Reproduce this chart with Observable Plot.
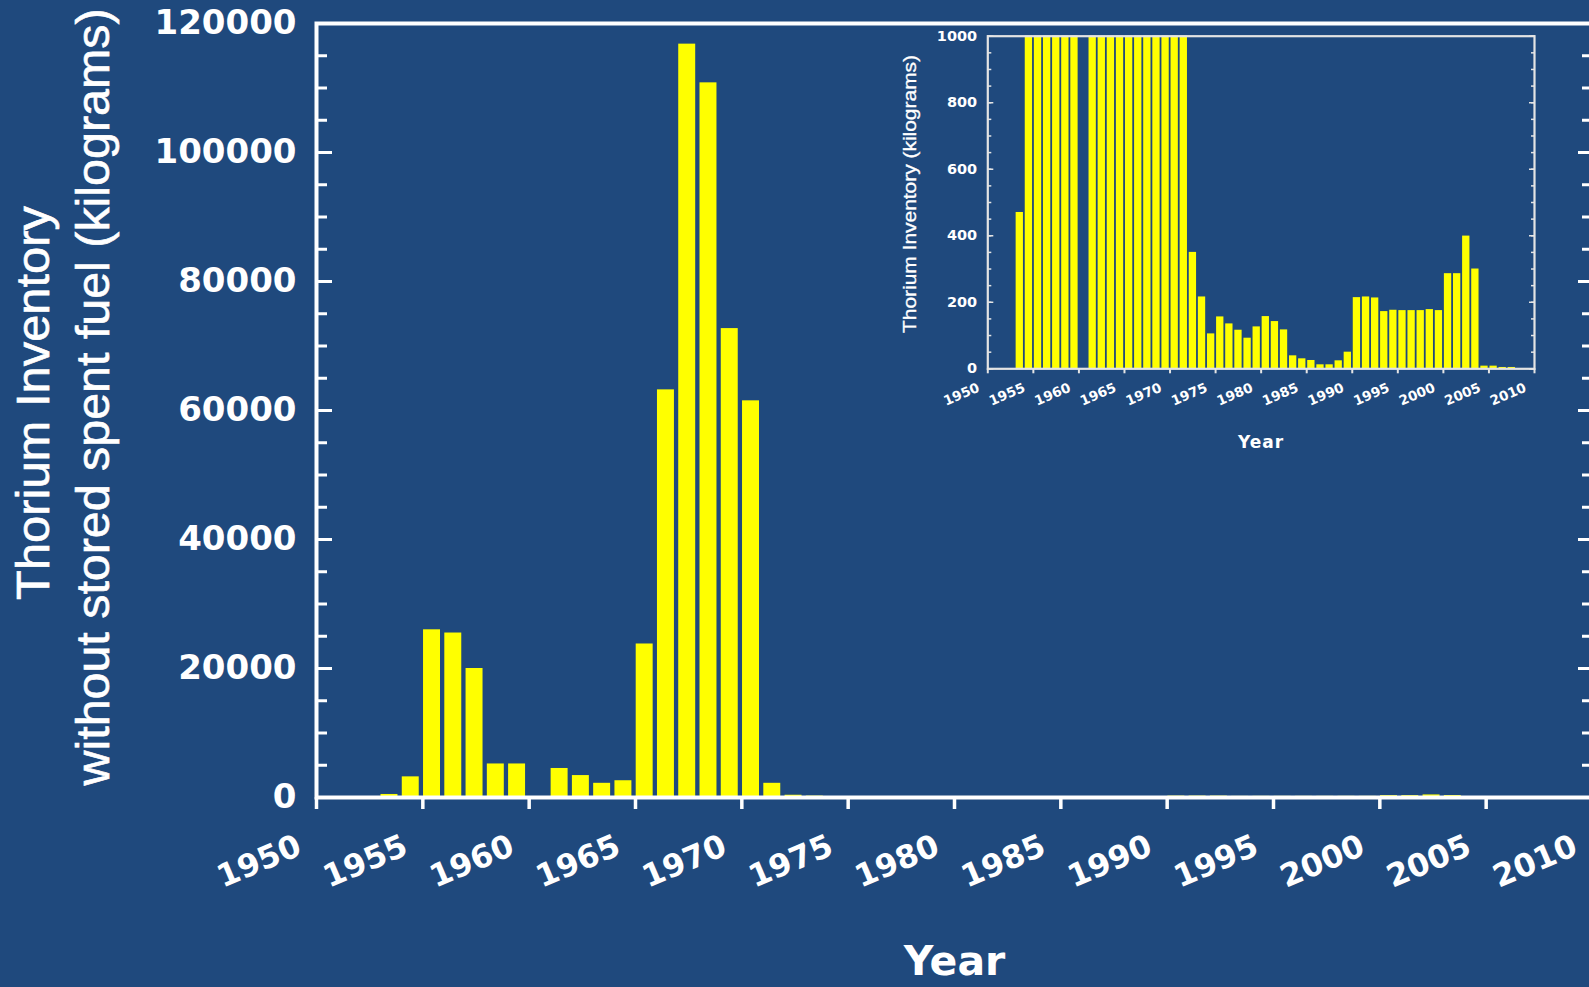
<!DOCTYPE html>
<html>
<head>
<meta charset="utf-8">
<script src="https://cdn.jsdelivr.net/npm/d3@7"></script>
<script src="https://cdn.jsdelivr.net/npm/@observablehq/plot@0.6"></script>
<style>
  html, body { margin: 0; padding: 0; background: #1F497D; overflow: hidden; }
  #wrap { position: relative; width: 1589px; height: 987px; overflow: hidden; background: #1F497D; }
  #main { position: absolute; left: 0; top: 0; }
  #inset { position: absolute; left: 860px; top: 25px; }
</style>
</head>
<body>
<div id="wrap"><div id="main"></div><div id="inset"></div></div>
<script>
// ---- data (kilograms of thorium per year) ----
const years = [1950,1951,1952,1953,1954,1955,1956,1957,1958,1959,1960,1961,1962,1963,1964,1965,1966,1967,1968,1969,1970,1971,1972,1973,1974,1975,1976,1977,1978,1979,1980,1981,1982,1983,1984,1985,1986,1987,1988,1989,1990,1991,1992,1993,1994,1995,1996,1997,1998,1999,2000,2001,2002,2003,2004,2005,2006,2007];
const inventoryKg = [0,0,0,470,3200,26000,25500,20000,5200,5200,0,4500,3400,2200,2600,23800,63200,116800,110800,72700,61500,2200,350,216,105,156,135,116,92,126,157,142,117,39,30,25,12,12,24,50,214,216,213,172,176,175,175,175,178,175,286,286,399,300,8,8,4,4];

// ---- ticks & labels ----
const mainYTicks = [0,20000,40000,60000,80000,100000,120000];
const insetYTicks = [0,200,400,600,800,1000];
const xTicks = [1950,1955,1960,1965,1970,1975,1980,1985,1990,1995,2000,2005,2010];
const mainYTitle = ["Thorium Inventory", "without stored spent fuel (kilograms)"];
const insetYTitle = "Thorium Inventory (kilograms)";
const xTitle = "Year";

const rows = years.map((year, i) => ({year, value: inventoryKg[i]}));
const mainYMinor = d3.range(0, 120001, 5000);
const insetYMinor = d3.range(0, 1001, 50);

const BG = "#1F497D";
const YEL = "#FFFF00";
const NUMFONT = "DejaVu Sans, Verdana, sans-serif";

// ---------------- main chart ----------------
const main = Plot.plot({
  width: 1592, height: 987,
  marginLeft: 316, marginRight: 0, marginTop: 23, marginBottom: 190,
  style: {background: BG, color: "white", fontFamily: NUMFONT, maxWidth: "none", overflow: "visible"},
  x: {domain: [1950, 2010]},
  y: {domain: [0, 120000]},
  marks: [
    Plot.rectY(rows, {x: "year", y: "value", interval: 1, fill: YEL, insetLeft: 0.7, insetRight: 3.6}),
    Plot.frame({stroke: "white", strokeWidth: 4}),
    Plot.axisY({ticks: mainYMinor, tickSize: -11, fill: "none", stroke: "white", strokeWidth: 3, label: null}),
    Plot.axisY({ticks: mainYTicks, tickSize: -16, fill: "none", stroke: "white", strokeWidth: 3, label: null}),
    Plot.axisY({anchor: "right", ticks: mainYMinor, tickSize: -11, fill: "none", stroke: "white", strokeWidth: 3, label: null}),
    Plot.axisY({anchor: "right", ticks: mainYTicks, tickSize: -15, fill: "none", stroke: "white", strokeWidth: 3, label: null}),
    Plot.axisY({ticks: mainYTicks, tickSize: 0, tickPadding: 20, fill: "white", fontSize: 34, fontWeight: "bold", label: null, tickFormat: d => String(d)}),
    Plot.axisX({ticks: xTicks, tickSize: 12, fill: "none", stroke: "white", strokeWidth: 3.5, label: null}),
    Plot.axisX({ticks: xTicks, tickSize: 0, tickPadding: 47, tickRotate: -23, textAnchor: "end", lineAnchor: "middle", dx: -17, fill: "white", fontSize: 31.5, fontWeight: "bold", label: null, tickFormat: d => String(d)}),
    Plot.text([xTitle], {text: d => d, frameAnchor: "bottom", dy: 177, fontSize: 41, fontWeight: "bold", fill: "white"})
  ]
});
document.getElementById("main").appendChild(main);

// main y title (two lines, rotated)
{
  const g = d3.select(main).append("g")
    .attr("fill", "white")
    .attr("stroke", "white")
    .attr("stroke-width", 0.6)
    .attr("font-family", "Liberation Sans, Arial, sans-serif");
  const xs = [48.5, 109], ys = [403, 397], lens = [394, 777];
  mainYTitle.forEach((t, i) => {
    g.append("text")
      .attr("transform", `translate(${xs[i]},${ys[i]}) scale(1.07,1) rotate(-90)`)
      .attr("text-anchor", "middle")
      .attr("font-size", 44)
      .attr("textLength", lens[i])
      .attr("lengthAdjust", "spacingAndGlyphs")
      .text(t);
  });
}

// ---------------- inset chart ----------------
const AX = "#e4e4e4";
const inset = Plot.plot({
  width: 700, height: 440,
  marginLeft: 127.3, marginRight: 26, marginTop: 10.7, marginBottom: 96.7,
  style: {background: "transparent", color: "white", fontFamily: NUMFONT, maxWidth: "none", overflow: "visible"},
  x: {domain: [1950, 2010]},
  y: {domain: [0, 1000]},
  marks: [
    Plot.rectY(rows, {x: "year", y: "value", interval: 1, fill: YEL, insetLeft: 1, insetRight: 0.8, clip: true}),
    Plot.frame({stroke: AX, strokeWidth: 2.2}),
    Plot.axisY({ticks: insetYMinor, tickSize: -4, fill: "none", stroke: AX, strokeWidth: 1.5, label: null}),
    Plot.axisY({ticks: insetYTicks, tickSize: -6, fill: "none", stroke: AX, strokeWidth: 1.5, label: null}),
    Plot.axisY({anchor: "right", ticks: insetYMinor, tickSize: -4, fill: "none", stroke: AX, strokeWidth: 1.5, label: null}),
    Plot.axisY({anchor: "right", ticks: insetYTicks, tickSize: -6, fill: "none", stroke: AX, strokeWidth: 1.5, label: null}),
    Plot.axisY({ticks: insetYTicks, tickSize: 0, tickPadding: 10.6, fill: "white", fontSize: 14.5, fontWeight: "bold", label: null, tickFormat: d => String(d)}),
    Plot.axisX({ticks: xTicks, tickSize: 5, fill: "none", stroke: AX, strokeWidth: 2, label: null}),
    Plot.axisX({ticks: xTicks, tickSize: 0, tickPadding: 18.2, tickRotate: -23, textAnchor: "end", lineAnchor: "middle", dx: -9, fill: "white", fontSize: 13.5, fontWeight: "bold", label: null, tickFormat: d => String(d)}),
    Plot.text([xTitle], {text: d => d, frameAnchor: "bottom", dy: 79, fontSize: 17, fontWeight: "bold", fill: "white"})
  ]
});
document.getElementById("inset").appendChild(inset);
d3.select(inset).selectAll("text").filter(function() { return this.textContent === xTitle; }).style("letter-spacing", "1px");

{
  d3.select(inset).append("text")
    .attr("transform", `translate(55.5,169) rotate(-90)`)
    .attr("text-anchor", "middle")
    .attr("fill", "white")
    .attr("stroke", "white")
    .attr("stroke-width", 0.3)
    .attr("font-family", "Liberation Sans, Arial, sans-serif")
    .attr("font-size", 18)
    .attr("textLength", 278)
    .attr("lengthAdjust", "spacingAndGlyphs")
    .text(insetYTitle);
}
</script>
</body>
</html>
